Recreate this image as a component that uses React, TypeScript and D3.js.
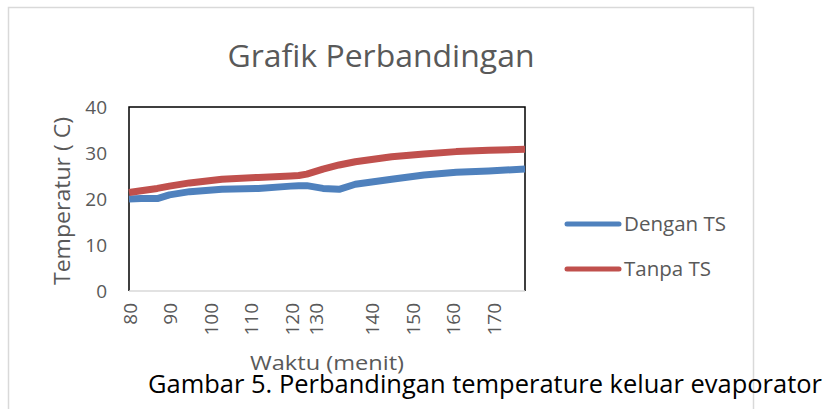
import React from 'react';
import * as d3 from 'd3';

// category index along the time axis (one category per reading)
const categoryCount = 99;

const tickLabels = ['80', '90', '100', '110', '120', '130', '140', '150', '160', '170'];
const tickIndex = [0, 10, 20, 30, 40, 46, 60, 70, 80, 90];

const sampleIndex = [0, 3, 7, 10, 15, 23, 32, 40, 42, 44, 48, 52, 56, 65, 73, 81, 89, 98];

const denganTS = [20.0, 20.1, 20.1, 20.9, 21.6, 22.1, 22.3, 22.8, 22.9, 22.9, 22.3, 22.1, 23.2, 24.3, 25.2, 25.8, 26.1, 26.5];
const tanpaTS = [21.4, 21.8, 22.3, 22.8, 23.5, 24.3, 24.7, 25.0, 25.1, 25.4, 26.5, 27.4, 28.1, 29.2, 29.8, 30.3, 30.6, 30.8];

const yTicks = [0, 10, 20, 30, 40];

const seriesNames = ['Dengan TS', 'Tanpa TS'];
const seriesColors = ['#4F81BD', '#C0504D'];

const FONT = '"Open Sans", "Noto Sans", sans-serif';
const GREY = '#595959';

const PLOT = { LEFT: 129, RIGHT: 525, TOP: 107, BOTTOM: 291 };

export default function App() {
    const width = 826,
        height = 409;

    const xScale = d3.scaleLinear().domain([0, categoryCount - 1]).range([PLOT.LEFT, PLOT.RIGHT]);
    const yScale = d3.scaleLinear().domain([0, 40]).range([PLOT.BOTTOM, PLOT.TOP]);

    const line = d3.line<number>()
        .x((_, i) => xScale(sampleIndex[i]))
        .y(d => yScale(d));

    const allSeries = [denganTS, tanpaTS];

    return (
        <svg width={width} height={height} style={{ position: 'absolute', left: 0, top: 0 }}>
            <rect x={0} y={0} width={width} height={height} fill='#fff' />
            {/* chart frame */}
            <path d='M8.5,409 L8.5,7.5 L753.5,7.5 L753.5,409' fill='none' stroke='#d9d9d9' strokeWidth={1.5} />

            <text x={381} y={67} textAnchor='middle' fontFamily={FONT} fontSize={31} fill={GREY}
                textLength={307} lengthAdjust='spacingAndGlyphs'>Grafik Perbandingan</text>

            {/* plot area border */}
            <path d={`M${PLOT.LEFT},${PLOT.BOTTOM} L${PLOT.LEFT},${PLOT.TOP} L${PLOT.RIGHT},${PLOT.TOP} L${PLOT.RIGHT},${PLOT.BOTTOM}`}
                fill='none' stroke='#000' strokeWidth={1.5} />
            <line x1={PLOT.LEFT} x2={PLOT.RIGHT} y1={PLOT.BOTTOM} y2={PLOT.BOTTOM} stroke='#d9d9d9' strokeWidth={1.5} />

            {yTicks.map(t => (
                <text key={`y-${t}`} x={107} y={yScale(t) + 7} textAnchor='end' fontFamily={FONT} fontSize={19} fill={GREY}>{t}</text>
            ))}

            {tickLabels.map((l, i) => (
                <text key={`x-${l}`} transform={`translate(${xScale(tickIndex[i]) + 8},303) rotate(-90)`}
                    textAnchor='end' fontFamily={FONT} fontSize={19} fill={GREY}>{l}</text>
            ))}

            <text transform={`translate(70,${(PLOT.TOP + PLOT.BOTTOM) / 2 + 2}) rotate(-90)`} textAnchor='middle'
                fontFamily={FONT} fontSize={21} fill={GREY} textLength={168} lengthAdjust='spacingAndGlyphs'>Temperatur ( C)</text>

            <text x={327} y={370} textAnchor='middle' fontFamily={FONT} fontSize={20} fill={GREY}
                textLength={154} lengthAdjust='spacingAndGlyphs'>Waktu (menit)</text>

            {allSeries.map((s, i) => (
                <path key={`series-${i}`} d={line(s) || ''} fill='none' stroke={seriesColors[i]} strokeWidth={7}
                    strokeLinejoin='round' />
            ))}

            {seriesNames.map((n, i) => (
                <g key={`legend-${n}`} transform={`translate(0,${224 + i * 45})`}>
                    <line x1={567} x2={619} y1={0} y2={0} stroke={seriesColors[i]} strokeWidth={5} strokeLinecap='round' />
                    <text x={624} y={7} fontFamily={FONT} fontSize={20} fill={GREY}
                        textLength={i === 0 ? 102 : 87} lengthAdjust='spacingAndGlyphs'>{n}</text>
                </g>
            ))}

            <text x={148} y={393} fontFamily={FONT} fontSize={26} fill='#000'
                textLength={674} lengthAdjust='spacingAndGlyphs'>Gambar 5. Perbandingan temperature keluar evaporator</text>
        </svg>
    );
}
